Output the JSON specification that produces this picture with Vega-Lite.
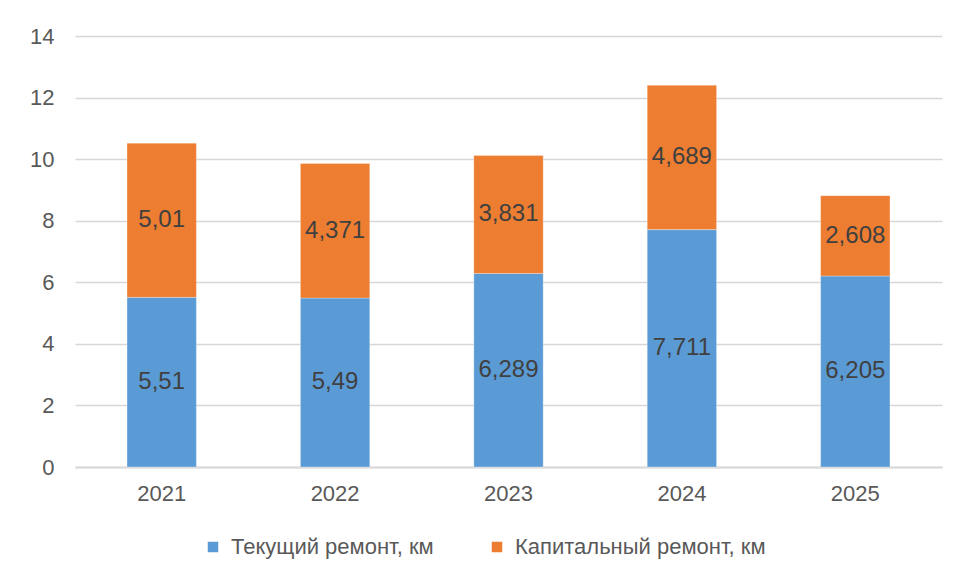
{
  "$schema": "https://vega.github.io/schema/vega-lite/v6.json",
  "autosize": "none",
  "width": 867,
  "height": 431,
  "padding": {"left": 75, "top": 36, "right": 16, "bottom": 111},
  "background": "white",
  "config": {"view": {"stroke": null}},
  "data": {
    "values": [
      {"year": "2021", "series": "Текущий ремонт, км", "ord": 1, "v": 5.51},
      {"year": "2021", "series": "Капитальный ремонт, км", "ord": 2, "v": 5.01},
      {"year": "2022", "series": "Текущий ремонт, км", "ord": 1, "v": 5.49},
      {"year": "2022", "series": "Капитальный ремонт, км", "ord": 2, "v": 4.371},
      {"year": "2023", "series": "Текущий ремонт, км", "ord": 1, "v": 6.289},
      {"year": "2023", "series": "Капитальный ремонт, км", "ord": 2, "v": 3.831},
      {"year": "2024", "series": "Текущий ремонт, км", "ord": 1, "v": 7.711},
      {"year": "2024", "series": "Капитальный ремонт, км", "ord": 2, "v": 4.689},
      {"year": "2025", "series": "Текущий ремонт, км", "ord": 1, "v": 6.205},
      {"year": "2025", "series": "Капитальный ремонт, км", "ord": 2, "v": 2.608}
    ]
  },
  "transform": [
    {"stack": "v", "groupby": ["year"], "sort": [{"field": "ord"}], "as": ["v0", "v1"]},
    {"calculate": "(datum.v0 + datum.v1) / 2", "as": "mid"},
    {"calculate": "replace(toString(datum.v), '.', ',')", "as": "lbl"}
  ],
  "encoding": {
    "x": {
      "field": "year", "type": "nominal", "title": null,
      "scale": {"paddingInner": 0.6, "paddingOuter": 0.3},
      "axis": {"labelAngle": 0, "ticks": false, "domainColor": "#d9d9d9", "domainWidth": 2, "labelPadding": 16, "labelFontSize": 22, "labelColor": "#595959", "labelFont": "Liberation Sans"}
    }
  },
  "layer": [
    {
      "mark": {"type": "bar", "stroke": "white", "strokeWidth": 0.5, "strokeOpacity": 0.6},
      "encoding": {
        "y": {
          "field": "v0", "type": "quantitative", "title": null,
          "scale": {"domain": [0, 14]},
          "axis": {"values": [0, 2, 4, 6, 8, 10, 12, 14], "ticks": false, "domain": false, "gridColor": "#d6d6d6", "gridWidth": 1.6, "labelPadding": 21, "labelFontSize": 22, "labelColor": "#595959", "labelFont": "Liberation Sans"}
        },
        "y2": {"field": "v1"},
        "color": {
          "field": "series", "type": "nominal",
          "scale": {"domain": ["Текущий ремонт, км", "Капитальный ремонт, км"], "range": ["#5B9BD5", "#ED7D31"]},
          "legend": {"orient": "none", "legendX": 127, "legendY": 500, "padding": 0, "direction": "horizontal", "title": null, "symbolType": "square", "symbolSize": 110, "symbolStrokeWidth": 0, "labelFontSize": 22, "labelLimit": 400, "labelColor": "#595959", "labelFont": "Liberation Sans", "columnPadding": 52, "labelOffset": 7}
        }
      }
    },
    {
      "mark": {"type": "text", "fontSize": 24, "color": "#404040", "font": "Liberation Sans", "baseline": "middle"},
      "encoding": {
        "y": {"field": "mid", "type": "quantitative"},
        "text": {"field": "lbl"}
      }
    }
  ]
}
